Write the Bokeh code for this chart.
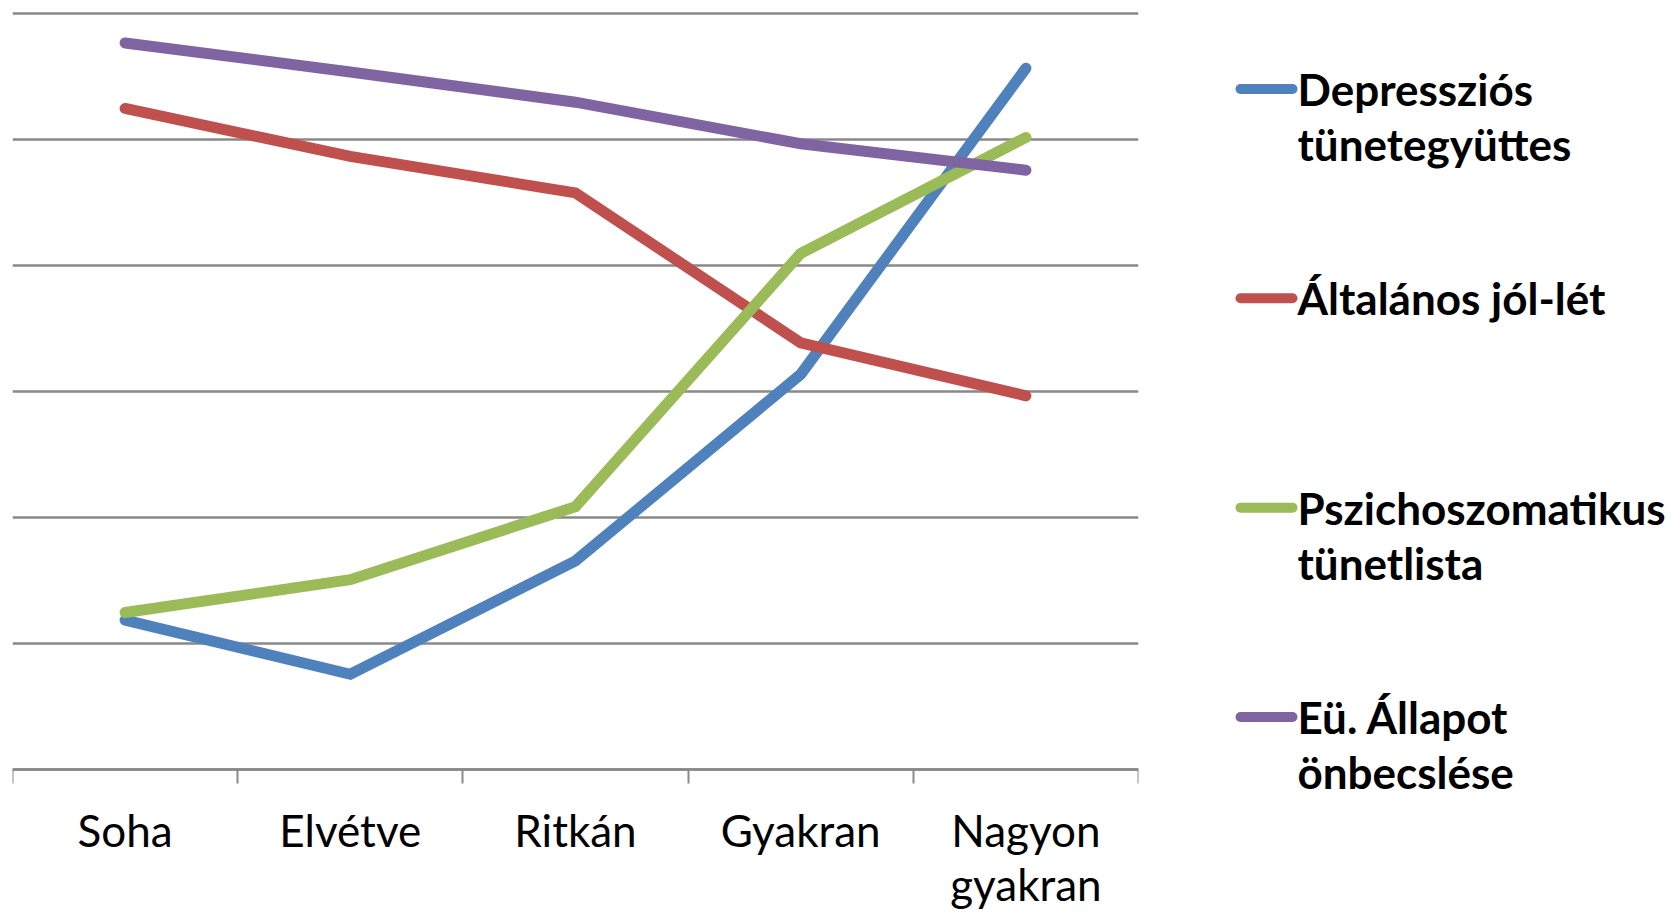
from bokeh.plotting import figure
from bokeh.layouts import row
from bokeh.models import Range1d, FixedTicker, ColumnDataSource
from bokeh.core.properties import value
from bokeh.embed import file_html
from bokeh.resources import INLINE

categories = ["Soha", "Elvétve", "Ritkán", "Gyakran", "Nagyon\ngyakran"]
series_names = ["Depressziós\ntünetegyüttes", "Általános jól-lét",
                "Pszichoszomatikus\ntünetlista", "Eü. Állapot\nönbecslése"]
series_colors = ["#4F81BD", "#C0504D", "#9BBB59", "#8064A2"]
depresszios = [1.19, 0.76, 1.66, 3.14, 5.57]
altalanos = [5.25, 4.87, 4.58, 3.39, 2.97]
pszicho = [1.25, 1.51, 2.09, 4.10, 5.02]
eu_allapot = [5.77, 5.54, 5.30, 4.97, 4.76]
series_values = [depresszios, altalanos, pszicho, eu_allapot]
y_ticks = [0, 1, 2, 3, 4, 5, 6]

FONT = "Lato"
GRID = "#898989"
H = 913

n = len(categories)
xs = [i + 0.5 for i in range(n)]

p = figure(width=1160, height=H, output_backend="svg", toolbar_location=None,
           x_range=Range1d(0, n), y_range=Range1d(-1.1389, 6.1071),
           y_axis_location=None, min_border_left=12, min_border_right=22,
           min_border_top=0, min_border_bottom=0)
p.outline_line_color = None
p.background_fill_color = "white"
p.border_fill_color = "white"
p.xgrid.visible = False
p.ygrid.ticker = FixedTicker(ticks=y_ticks)
p.ygrid.grid_line_color = GRID
p.ygrid.grid_line_width = 2.5

ax = p.xaxis[0]
ax.fixed_location = 0
ax.ticker = FixedTicker(ticks=xs, minor_ticks=list(range(n + 1)))
ax.major_label_overrides = {x: c for x, c in zip(xs, categories)}
ax.major_tick_out = 0
ax.major_tick_in = 0
ax.minor_tick_out = 14
ax.minor_tick_in = 0
ax.minor_tick_line_color = GRID
ax.minor_tick_line_width = 2
ax.axis_line_color = GRID
ax.axis_line_width = 2.5
ax.major_label_text_font = FONT
ax.major_label_text_font_size = "44px"
ax.major_label_text_color = "black"
ax.major_label_standoff = 20
ax.major_label_text_line_height = 1.04

for vals, col in zip(series_values, series_colors):
    p.line(xs, vals, line_color=col, line_width=11, line_cap="round", line_join="miter")

# Legend panel
names1 = [s.split("\n")[0] for s in series_names]
names2 = [s.split("\n")[1] if "\n" in s else "" for s in series_names]
idx = list(range(len(series_names)))
src = ColumnDataSource(dict(y=idx, n1=names1, n2=names2, c=series_colors))

lg = figure(width=512, height=H, output_backend="svg", toolbar_location=None,
            x_range=Range1d(0, 512), y_range=Range1d(3.939, -0.4228),
            x_axis_location=None, y_axis_location=None,
            min_border=0)
lg.outline_line_color = None
lg.grid.visible = False
lg.background_fill_color = "white"
lg.border_fill_color = "white"
lg.segment(x0=80, x1=132, y0="y", y1="y", line_color="c", line_width=10,
           line_cap="round", source=src)
lg.text(x=137, y="y", text="n1", source=src, text_font=value(FONT),
        text_font_style="bold", text_font_size="44px", text_baseline="middle",
        text_color="black")
lg.text(x=137, y="y", text="n2", source=src, text_font=value(FONT),
        text_font_style="bold", text_font_size="44px", text_baseline="middle",
        text_color="black", y_offset=55)

layout = row(p, lg, spacing=0)
open("out.html", "w").write(file_html(layout, INLINE))
